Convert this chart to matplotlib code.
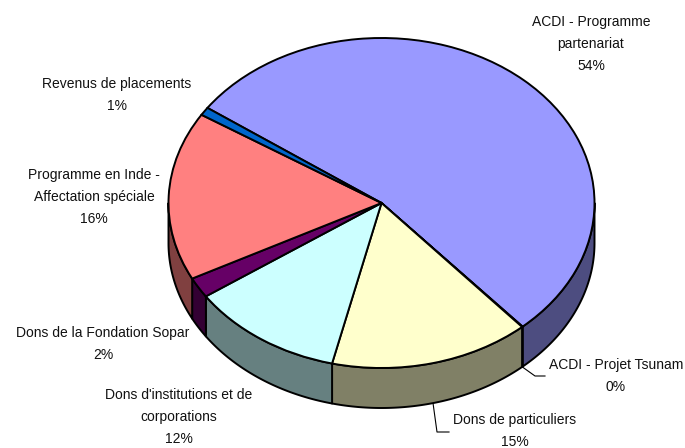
import numpy as np
import matplotlib
matplotlib.use("Agg")
import matplotlib.pyplot as plt

# Data
categories = ["ACDI - Programme\npartenariat", "ACDI - Projet Tsunam", "Dons de particuliers",
              "Dons d'institutions et de\ncorporations", "Dons de la Fondation Sopar",
              "Programme en Inde -\nAffectation spéciale", "Revenus de placements"]
values = [53.7, 0.05, 15.2, 11.7, 2.0, 16.55, 0.8]
pct_labels = ["54%", "0%", "15%", "12%", "2%", "16%", "1%"]

# Style
top_colors = ["#9999FF", "#993366", "#FFFFCC", "#CCFFFF", "#660066", "#FF8080", "#0066CC"]
side_colors = ["#4D4D80", "#4D1A33", "#808066", "#668080", "#330033", "#804040", "#003366"]
label_centers = [(591, 44), (616, 376), (515, 431), (179, 417), (103, 344), (94, 197), (117, 95)]

W, H = 685, 448
cx, cy, rx, ry, depth = 381.5, 203, 213, 165, 40
start = 144.8
lw = 1.4

fig = plt.figure(figsize=(W / 100, H / 100), dpi=100)
ax = fig.add_axes([0, 0, 1, 1])

ax.pie(values, colors=top_colors, startangle=start, counterclock=False, radius=1.0,
       wedgeprops=dict(edgecolor="black", linewidth=lw, zorder=5))
ax.set_aspect("auto")
ax.set_xlim(-cx / rx, (W - cx) / rx)
ax.set_ylim((cy - H) / ry, cy / ry)
ax.axis("off")

# Side wall of the 3D pie, from the same values
d = depth / ry
shares = np.array(values) / sum(values) * 360
theta = start
for share, col in zip(shares, side_colors):
    a0, a1 = theta - share, theta
    theta = a0
    # visible wall: lower half of the ellipse (180..360 deg)
    lo = max(a0 % 360 if (a0 % 360) >= 180 else 180, 180)
    hi_raw = a1 % 360
    hi = hi_raw if hi_raw > lo else 360
    if a0 % 360 < 180 and a1 % 360 < 180 and (a1 - a0) < 180:
        continue
    if a0 < 0 < a1:
        lo, hi = a0 % 360, 360
    if hi <= lo:
        continue
    t = np.radians(np.linspace(lo, hi, 80))
    xs = np.cos(t)
    ys = np.sin(t)
    ax.fill(np.r_[xs, xs[::-1]], np.r_[ys, ys[::-1] - d], facecolor=col,
            edgecolor="black", linewidth=lw, zorder=2, joinstyle="round")

# Leader lines (pixel coordinates)
def px(x, y):
    return (x - cx) / rx, (cy - y) / ry

for pts in ([(521, 366), (535, 376), (545, 376)], [(433, 403), (437, 432), (449, 432)]):
    xy = np.array([px(*p) for p in pts])
    ax.plot(xy[:, 0], xy[:, 1], color="black", lw=0.8, zorder=1)

# Labels
for cat, pct, (x, y) in zip(categories, pct_labels, label_centers):
    ax.text(*px(x, y), f"{cat}\n{pct}", family="Liberation Sans", fontsize=10.0,
            color="#111111", ha="center", va="center", ma="center", linespacing=1.72,
            zorder=6, clip_on=False)

fig.savefig("out.png", dpi=100, facecolor="white")
